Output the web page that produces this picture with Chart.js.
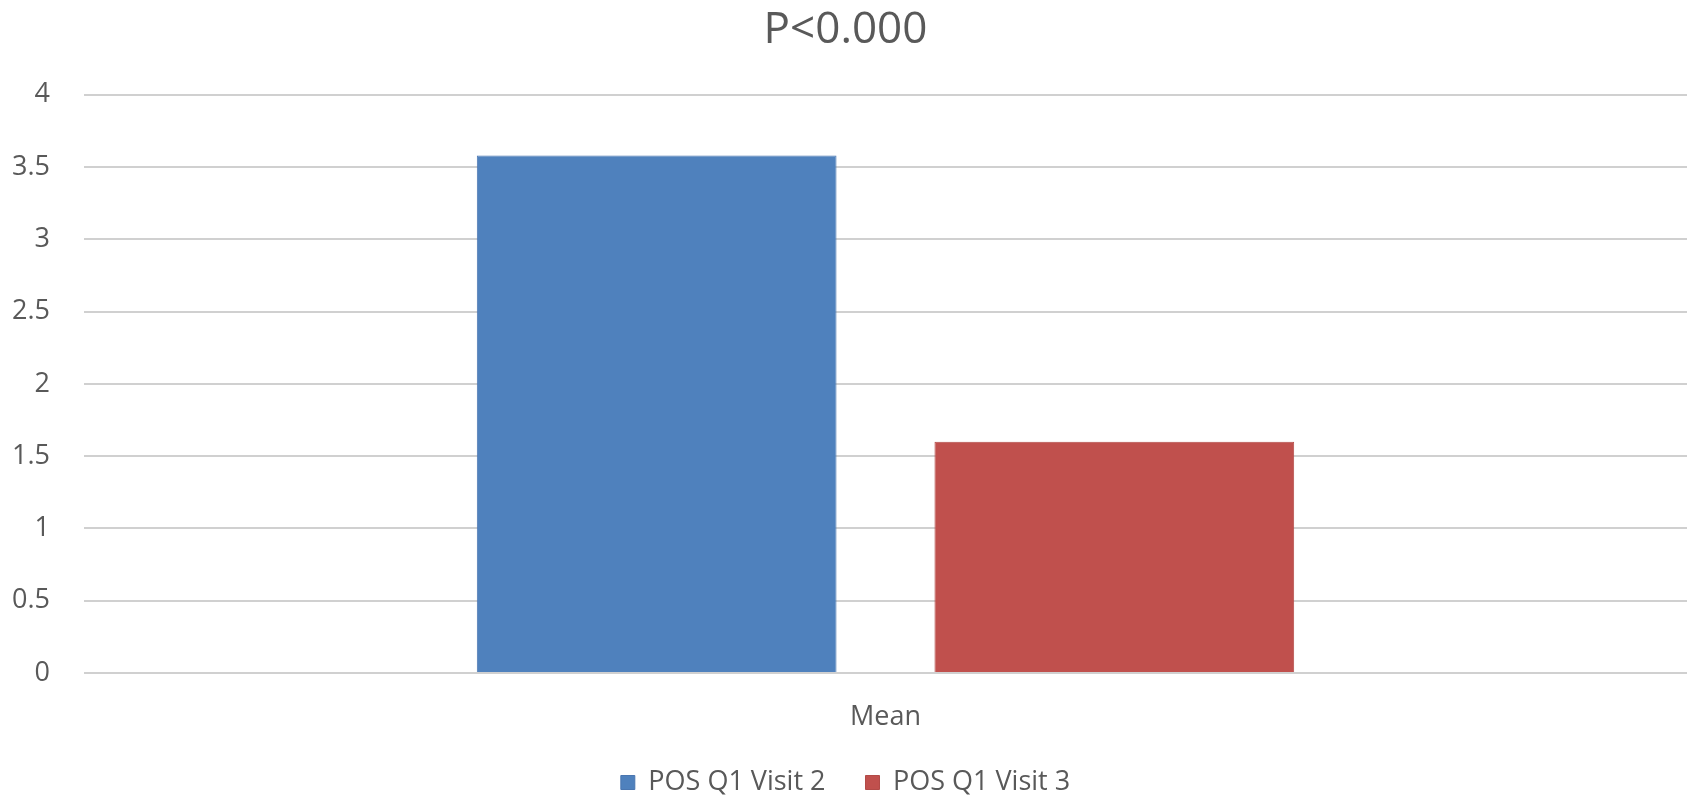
<!DOCTYPE html>
<html>
<head>
<meta charset="utf-8">
<script src="https://cdn.jsdelivr.net/npm/chart.js@4"></script>
<style>
html,body{margin:0;padding:0;background:#fff;}
#wrap{width:1696px;height:798px;}
</style>
</head>
<body>
<div id="wrap"><canvas id="c" width="1696" height="798"></canvas></div>
<script>
const categories = ["Mean"];
const seriesNames = ["POS Q1 Visit 2", "POS Q1 Visit 3"];
const visit2 = [3.58];
const visit3 = [1.6];
const yTickLabels = ["0", "0.5", "1", "1.5", "2", "2.5", "3", "3.5", "4"];
const titleText = "P<0.000";

Chart.defaults.font.family = "'Open Sans', sans-serif";
new Chart(document.getElementById('c'), {
  type: 'bar',
  data: {
    labels: categories,
    datasets: [
      {label: seriesNames[0], data: visit2, backgroundColor: '#4f81bd', borderColor: '#4a76b0', borderWidth: 1, categoryPercentage: 0.571, barPercentage: 0.786},
      {label: seriesNames[1], data: visit3, backgroundColor: '#c0504d', borderColor: '#b24a47', borderWidth: 1, categoryPercentage: 0.571, barPercentage: 0.786}
    ]
  },
  options: {
    responsive: false,
    animation: false,
    layout: {padding: {left: 4, right: 9, top: 0, bottom: -8}},
    plugins: {
      title: {display: true, text: titleText, color: '#595959', font: {size: 44, weight: 'normal'}, padding: {top: 4, bottom: 38}},
      legend: {position: 'bottom', labels: {color: '#595959', font: {size: 27}, boxWidth: 14, boxHeight: 14, padding: 40}},
      tooltip: {enabled: false}
    },
    scales: {
      x: {grid: {display: false, drawTicks: true, tickLength: 32}, border: {display: false},
          ticks: {color: '#595959', font: {size: 27, lineHeight: 0.89}, padding: 0}},
      y: {min: 0, max: 4, afterFit: (s) => { s.width = 80; },
          ticks: {stepSize: 0.5, color: '#595959', font: {size: 27}, padding: 34,
            callback: (v, i) => yTickLabels[i]},
          grid: {color: '#d0d0d0', lineWidth: 2, drawTicks: false}, border: {display: false}}
    }
  }
});
</script>
</body>
</html>
